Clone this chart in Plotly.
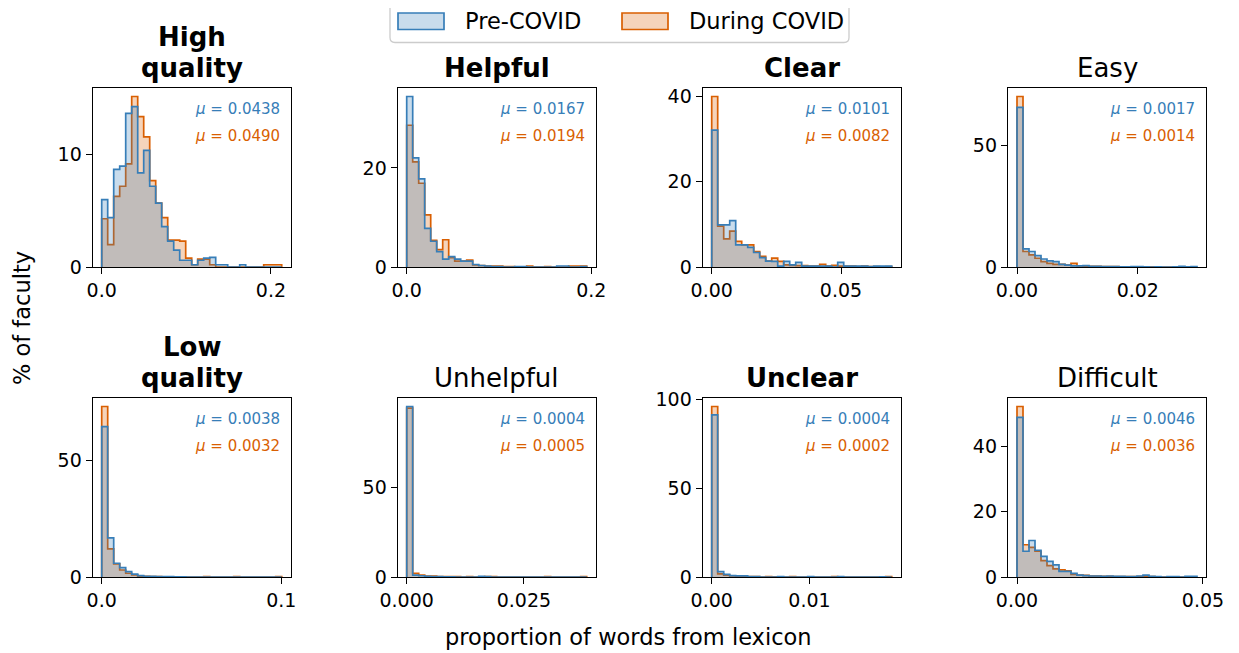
import numpy as np
import plotly.graph_objects as go

# ---------------- data ----------------
titles = ["High<br>quality", "Helpful", "Clear", "Easy",
          "Low<br>quality", "Unhelpful", "Unclear", "Difficult"]
title_bold = [True, True, True, False, True, False, True, False]

# upper edge of the 30 histogram bins (lower edge is 0)
x_max = [0.2127, 0.195, 0.0696, 0.0298, 0.1002, 0.0384, 0.0184, 0.0484]

pre_high = [6.0, 4.4, 8.7, 9.0, 13.7, 14.3, 8.4, 10.4, 7.2, 5.7, 3.6, 2.3, 1.5, 0.6, 0.6,
            0.2, 0.6, 0.8, 0.85, 0.2, 0.2, 0, 0, 0.2, 0, 0, 0, 0, 0, 0]
dur_high = [4.3, 2.0, 6.3, 7.2, 9.2, 15.2, 13.4, 11.6, 7.7, 5.7, 4.4, 2.4, 2.4, 2.3, 0.8,
            0.2, 0.7, 0.7, 0.2, 0, 0, 0, 0, 0, 0, 0, 0, 0.2, 0.2, 0.2]
pre_helpful = [34.4, 22.0, 17.8, 7.8, 5.2, 3.1, 1.6, 2.1, 1.6, 1.2, 1.2, 0.5, 0.3, 0.2, 0.1,
               0.1, 0, 0, 0.1, 0.1, 0, 0, 0, 0, 0, 0.2, 0.2, 0, 0, 0.1]
dur_helpful = [28.6, 21.2, 16.9, 10.5, 5.4, 3.5, 5.5, 1.9, 1.2, 1.2, 1.4, 0.4, 0.3, 0.2, 0.2,
               0.2, 0.1, 0.1, 0, 0, 0.2, 0, 0, 0.1, 0, 0, 0, 0.2, 0.2, 0.2]
pre_clear = [32.1, 9.9, 9.9, 10.9, 5.2, 5.2, 4.6, 3.4, 2.2, 1.4, 1.3, 0.2, 1.3, 0.5, 1.1,
             0.2, 0.2, 0.2, 0.2, 0.2, 0, 1.1, 0.2, 0.2, 0.2, 0.2, 0.1, 0.2, 0.2, 0.2]
dur_clear = [40.0, 9.6, 6.6, 8.4, 6.0, 5.2, 5.2, 3.6, 2.5, 1.4, 2.1, 1.3, 0.5, 0.4, 0.3,
             0.3, 0.2, 0.2, 0.6, 0.2, 0.4, 0.2, 0.2, 0.2, 0.1, 0.2, 0.1, 0.1, 0, 0.1]
pre_easy = [65.8, 7.5, 6.4, 4.7, 3.3, 2.5, 2.2, 1.1, 0.8, 0.5, 0.5, 0.6, 0.3, 0.3, 0.2,
            0.2, 0.2, 0.1, 0.1, 0.2, 0.2, 0.1, 0, 0.1, 0, 0, 0.1, 0.3, 0.1, 0.2]
dur_easy = [70.3, 6.4, 5.0, 3.6, 2.2, 1.5, 1.1, 1.1, 0.8, 1.5, 0.5, 0.4, 0.3, 0.3, 0.2,
            0.2, 0.2, 0.1, 0.1, 0.1, 0.1, 0.1, 0.1, 0, 0, 0, 0, 0, 0, 0]
pre_low = [64.5, 16.8, 5.9, 4.0, 2.3, 1.2, 0.6, 0.3, 0.3, 0.2, 0.2, 0.2, 0.1, 0.1, 0,
           0, 0, 0, 0, 0, 0, 0, 0, 0, 0, 0, 0, 0, 0, 0]
dur_low = [73.1, 12.1, 5.6, 3.0, 1.6, 0.9, 0.4, 0.3, 0.2, 0.2, 0.1, 0.1, 0.1, 0.1, 0,
           0, 0, 0.2, 0, 0, 0, 0, 0.2, 0, 0, 0, 0, 0, 0, 0.2]
pre_unhelpful = [95.1, 1.1, 0.7, 0.4, 0.2, 0.2, 0.1, 0.1, 0, 0, 0, 0, 0.3, 0.2, 0,
                 0, 0, 0, 0, 0, 0, 0, 0, 0, 0, 0, 0, 0, 0, 0]
dur_unhelpful = [94.2, 2.0, 1.1, 0.5, 0.5, 0.2, 0.2, 0.2, 0.2, 0, 0.2, 0, 0, 0.2, 0.2,
                 0, 0, 0, 0, 0, 0, 0, 0, 0.2, 0, 0, 0, 0, 0, 0.2]
pre_unclear = [91.1, 3.0, 1.5, 0.8, 0.6, 0.6, 0.2, 0.2, 0, 0, 0, 0.2, 0, 0, 0,
               0, 0.2, 0, 0, 0, 0, 0.2, 0, 0, 0, 0, 0, 0, 0.1, 0]
dur_unclear = [95.8, 1.7, 1.1, 0.6, 0.4, 0.2, 0.2, 0.2, 0, 0.2, 0.1, 0, 0, 0.2, 0,
               0, 0, 0, 0, 0, 0.2, 0, 0, 0, 0, 0, 0, 0, 0, 0.2]
pre_difficult = [49.0, 7.9, 11.2, 8.2, 6.3, 4.8, 3.7, 1.7, 1.7, 1.1, 0.6, 0.4, 0.3, 0.3, 0.2,
                 0.3, 0.2, 0.2, 0.1, 0.1, 0.3, 0.6, 0.2, 0.1, 0, 0.1, 0.1, 0, 0.2, 0.2]
dur_difficult = [52.3, 9.9, 9.1, 7.9, 5.0, 3.5, 2.5, 2.2, 1.9, 0.8, 0.6, 0.5, 0.3, 0.3, 0.2,
                 0.2, 0.1, 0.1, 0.1, 0.1, 0.1, 0.2, 0.1, 0, 0, 0, 0, 0, 0, 0]

pre_covid = [pre_high, pre_helpful, pre_clear, pre_easy,
             pre_low, pre_unhelpful, pre_unclear, pre_difficult]
during_covid = [dur_high, dur_helpful, dur_clear, dur_easy,
                dur_low, dur_unhelpful, dur_unclear, dur_difficult]

pre_means = ["0.0438", "0.0167", "0.0101", "0.0017", "0.0038", "0.0004", "0.0004", "0.0046"]
dur_means = ["0.0490", "0.0194", "0.0082", "0.0014", "0.0032", "0.0005", "0.0002", "0.0036"]

x_tickvals = [[0, 0.2], [0, 0.2], [0, 0.05], [0, 0.02], [0, 0.1], [0, 0.025], [0, 0.01], [0, 0.05]]
x_ticktext = [["0.0", "0.2"], ["0.0", "0.2"], ["0.00", "0.05"], ["0.00", "0.02"],
              ["0.0", "0.1"], ["0.000", "0.025"], ["0.00", "0.01"], ["0.00", "0.05"]]
y_tickvals = [[0, 10], [0, 20], [0, 20, 40], [0, 50], [0, 50], [0, 50], [0, 50, 100], [0, 20, 40]]

series_names = ["Pre-COVID", "During COVID"]

# ---------------- style ----------------
BLUE = "#377eb8"
ORANGE = "#d95f02"
BLUE_FILL = "rgba(55,126,184,0.27)"
ORANGE_FILL = "rgba(217,95,2,0.27)"
FONT = "DejaVu Sans"

OFF = 8  # default page body margin
W, H = 1239 - OFF, 653 - OFF
ML, MT = 92 - OFF, 88 - OFF
MR = W - (1206 - OFF)
MB = H - (577 - OFF)
PW, PH = W - ML - MR, H - MT - MB


def px(xp):  # page pixel -> paper x
    return (xp - OFF - ML) / PW


def py(yp):  # page pixel -> paper y
    return (H - MB - (yp - OFF)) / PH


col_left_px = [92.7, 397.7, 702.7, 1008.0]
ax_w_px = 198.0
row_top_px = [88.0, 398.0]
ax_h_px = 179.0

fig = go.Figure()

for i in range(8):
    r, c = divmod(i, 4)
    idx = "" if i == 0 else str(i + 1)
    xa, ya = "x" + idx, "y" + idx
    edges = np.linspace(0, x_max[i], 31)
    xs = np.concatenate([[edges[0]], edges])
    ymax = max(max(pre_covid[i]), max(during_covid[i]))
    for name, vals, lc, fc in [
        (series_names[1], during_covid[i], ORANGE, ORANGE_FILL),
        (series_names[0], pre_covid[i], BLUE, BLUE_FILL),
    ]:
        ys = np.concatenate([[0], np.array(vals, dtype=float), [0]])
        fig.add_trace(go.Scatter(
            x=xs, y=ys, mode="lines", line=dict(color=lc, width=1.7, shape="hv"),
            fill="tozeroy", fillcolor=fc, name=name, showlegend=False,
            xaxis=xa, yaxis=ya, hoverinfo="skip"))

    x0, x1 = px(col_left_px[c]), px(col_left_px[c] + ax_w_px)
    y1, y0 = py(row_top_px[r]), py(row_top_px[r] + ax_h_px)
    axis_common = dict(showline=True, mirror=True, linecolor="black", linewidth=1.3,
                       ticks="outside", ticklen=6, tickwidth=1.3, tickcolor="black",
                       showgrid=False, zeroline=False,
                       tickfont=dict(family=FONT, size=19, color="black"))
    fig.layout["xaxis" + idx] = dict(domain=[max(0, x0), min(1, x1)], anchor=ya,
                                     range=[-0.05 * x_max[i], 1.05 * x_max[i]],
                                     tickvals=x_tickvals[i], ticktext=x_ticktext[i],
                                     **axis_common)
    fig.layout["yaxis" + idx] = dict(domain=[max(0, y0), min(1, y1)], anchor=xa,
                                     range=[0, 1.05 * ymax], tickvals=y_tickvals[i],
                                     **axis_common)

    lines = titles[i].split("<br>")
    for k, line in enumerate(reversed(lines)):
        t = "<b>" + line + "</b>" if title_bold[i] else line
        fig.add_annotation(text=t, xref=xa + " domain", yref=ya + " domain", x=0.5, y=1,
                           xanchor="center", yanchor="bottom", yshift=3 + 31 * k,
                           showarrow=False,
                           font=dict(family=FONT, size=26, color="black"))
    fig.add_annotation(text="<i>μ</i> = " + pre_means[i], xref=xa + " domain",
                       yref=ya + " domain", x=0.955, y=0.88, xanchor="right",
                       yanchor="middle", showarrow=False,
                       font=dict(family=FONT, size=15, color=BLUE))
    fig.add_annotation(text="<i>μ</i> = " + dur_means[i], xref=xa + " domain",
                       yref=ya + " domain", x=0.955, y=0.73, xanchor="right",
                       yanchor="middle", showarrow=False,
                       font=dict(family=FONT, size=15, color=ORANGE))

fig.add_annotation(text="% of faculty", xref="paper", yref="paper",
                   x=px(22), y=py(318), textangle=-90,
                   xanchor="center", yanchor="middle", showarrow=False,
                   font=dict(family=FONT, size=22.5, color="black"))
fig.add_annotation(text="proportion of words from lexicon", xref="paper", yref="paper",
                   x=px(628), y=py(637),
                   xanchor="center", yanchor="middle", showarrow=False,
                   font=dict(family=FONT, size=22.5, color="black"))

# legend (drawn manually to match the framed, rounded patch style)
lx0, lx1, ly0, ly1, rad = px(390), px(849), py(42.5), py(2.5), 5
rx, ry = rad / PW, rad / PH
legend_path = (f"M {lx0 + rx},{ly0} L {lx1 - rx},{ly0} Q {lx1},{ly0} {lx1},{ly0 + ry} "
               f"L {lx1},{ly1 - ry} Q {lx1},{ly1} {lx1 - rx},{ly1} "
               f"L {lx0 + rx},{ly1} Q {lx0},{ly1} {lx0},{ly1 - ry} "
               f"L {lx0},{ly0 + ry} Q {lx0},{ly0} {lx0 + rx},{ly0} Z")
fig.add_shape(type="path", xref="paper", yref="paper", path=legend_path,
              line=dict(color="#cccccc", width=1.3), fillcolor="white", layer="above")
legend_items = [(series_names[0], BLUE, BLUE_FILL, 398, 463),
                (series_names[1], ORANGE, ORANGE_FILL, 622, 687)]
for name, lc, fc, sx, tx in legend_items:
    fig.add_shape(type="rect", xref="paper", yref="paper",
                  x0=px(sx), x1=px(sx + 46), y0=py(29.5), y1=py(13),
                  line=dict(color=lc, width=1.7), fillcolor=fc, layer="above")
    fig.add_annotation(text=name, xref="paper", yref="paper", x=px(tx), y=py(21.5),
                       xanchor="left", yanchor="middle", showarrow=False,
                       font=dict(family=FONT, size=22.5, color="black"))

fig.update_layout(
    width=W, height=H, margin=dict(l=ML, r=MR, t=MT, b=MB),
    plot_bgcolor="white", paper_bgcolor="white",
    font=dict(family=FONT, size=19, color="black"),
    showlegend=False,
)

fig.write_html("out.html")
